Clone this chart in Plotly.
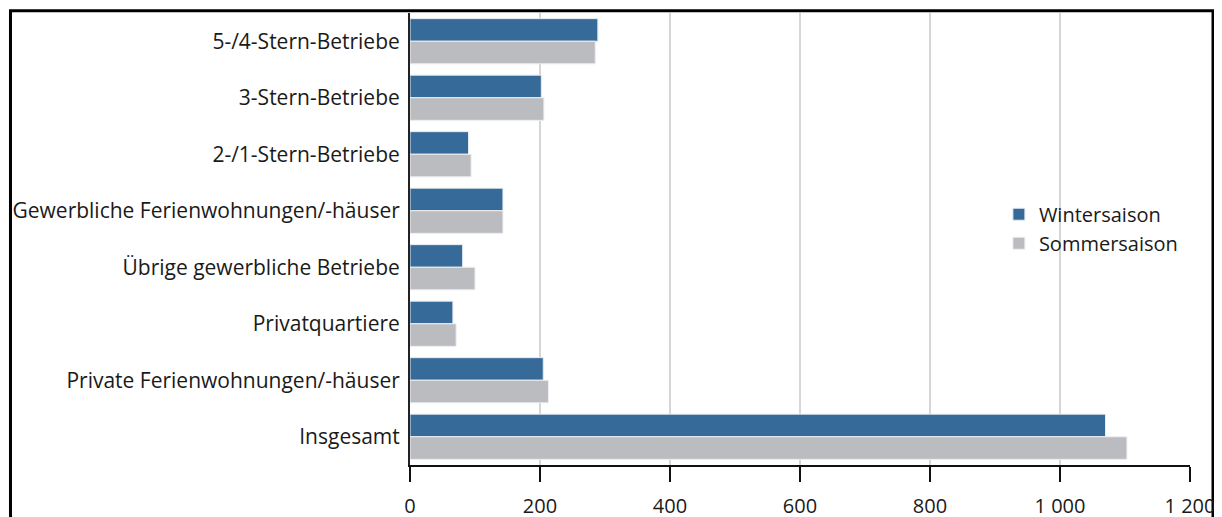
import plotly.graph_objects as go

categories = [
    "5-/4-Stern-Betriebe",
    "3-Stern-Betriebe",
    "2-/1-Stern-Betriebe",
    "Gewerbliche Ferienwohnungen/-häuser",
    "Übrige gewerbliche Betriebe",
    "Privatquartiere",
    "Private Ferienwohnungen/-häuser",
    "Insgesamt",
]
winter = [289, 202, 90, 143, 81, 66, 205, 1070]
sommer = [285, 206, 94, 143, 100, 71, 213, 1103]
tick_vals = [0, 200, 400, 600, 800, 1000, 1200]
tick_text = ["0", "200", "400", "600", "800", "1 000", "1 200"]

FONT = "Open Sans"
BLUE = "#366a99"
GREY = "#bbbcc0"

fig = go.Figure()
fig.add_trace(go.Bar(
    y=categories, x=winter, orientation="h", name="Wintersaison",
    marker=dict(color=BLUE, line=dict(color="#e6ecf2", width=1)),
))
fig.add_trace(go.Bar(
    y=categories, x=sommer, orientation="h", name="Sommersaison",
    marker=dict(color=GREY, line=dict(color="#eeeeef", width=1)),
))

fig.update_layout(
    width=1222, height=517,
    margin=dict(l=402, r=40, t=5, b=60, autoexpand=False),
    paper_bgcolor="white", plot_bgcolor="white",
    barmode="group", bargap=0.2, bargroupgap=0.0,
    font=dict(family=FONT, size=20, color="#1a1a1a"),
    legend=dict(
        x=0.755, y=0.598, xanchor="left", yanchor="top",
        font=dict(family=FONT, size=20, color="#1a1a1a"),
        bgcolor="rgba(0,0,0,0)",
    ),
    showlegend=True,
)
fig.update_xaxes(
    range=[0, 1200], tickvals=tick_vals, ticktext=tick_text,
    showgrid=True, gridcolor="#d6d6d6", gridwidth=2,
    showline=True, linecolor="#111111", linewidth=2,
    ticks="outside", ticklen=15, tickwidth=2, tickcolor="#111111",
    zeroline=False, tickfont=dict(size=20), ticklabelstandoff=7,
    automargin=False,
)
fig.update_yaxes(
    autorange="reversed", showgrid=False,
    showline=True, linecolor="#222222", linewidth=2,
    ticks="", ticklabelstandoff=4, tickfont=dict(size=21),
    automargin=False,
)
# outer frame
fig.add_shape(type="rect", xref="paper", yref="paper",
              x0=-0.5122, x1=1.0295, y0=-0.3, y1=1.0049,
              line=dict(color="black", width=3), fillcolor="rgba(0,0,0,0)",
              layer="below")

fig.write_html("out.html")
